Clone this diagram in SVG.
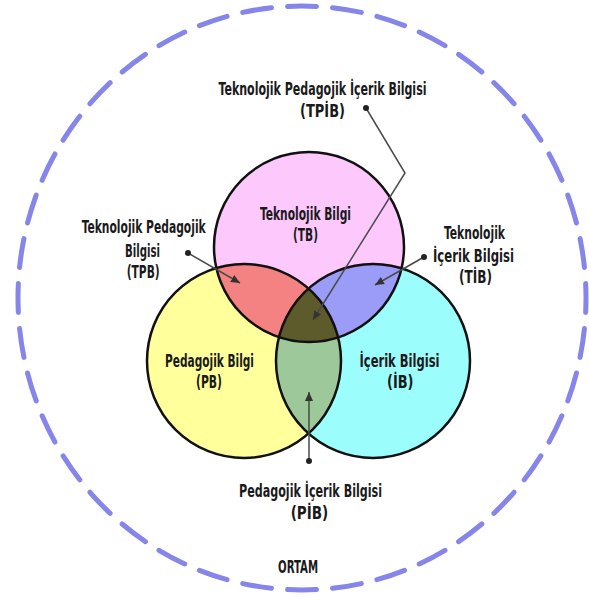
<svg xmlns="http://www.w3.org/2000/svg" width="589" height="597" viewBox="0 0 589 597">
<style>
.t{font-family:"DejaVu Sans","Liberation Sans",sans-serif;font-stretch:condensed;font-weight:bold;font-size:18.5px;fill:#1a1a1a;}
.c{stroke:#111;stroke-width:2.5;fill:none;}
.lk{stroke:#4a4a4a;stroke-width:1.5;fill:none;}
</style>
<defs>
<clipPath id="cpT"><circle cx="309" cy="247" r="95"/></clipPath>
<clipPath id="cpP"><circle cx="244" cy="361" r="97"/></clipPath>
<clipPath id="cpI"><circle cx="373" cy="361" r="97"/></clipPath>
<marker id="arr" markerUnits="userSpaceOnUse" markerWidth="10" markerHeight="8" refX="9" refY="4" orient="auto"><path d="M0,0 L9,4 L0,8 Z" fill="#333"/></marker>
<marker id="dot" markerUnits="userSpaceOnUse" markerWidth="8" markerHeight="8" refX="4" refY="4"><circle cx="4" cy="4" r="3" fill="#222"/></marker>
</defs>
<rect width="589" height="597" fill="#fff"/>
<g id="ortam">
<ellipse cx="302" cy="298" rx="284" ry="292" fill="none" stroke="#8585ea" stroke-width="5" stroke-linecap="round" pathLength="1800" stroke-dasharray="29 16" stroke-dashoffset="14.5"/>
<text class="t" x="278" y="573" textLength="40" lengthAdjust="spacingAndGlyphs">ORTAM</text>
</g>
<g id="fills">
<circle cx="309" cy="247" r="95" fill="#fdc9fd"/>
<circle cx="244" cy="361" r="97" fill="#ffff9c"/>
<circle cx="373" cy="361" r="97" fill="#9cfdfd"/>
<g clip-path="url(#cpT)"><circle cx="244" cy="361" r="97" fill="#f48282"/><circle cx="373" cy="361" r="97" fill="#9b9bf8"/></g>
<g clip-path="url(#cpP)"><circle cx="373" cy="361" r="97" fill="#9dc89a"/></g>
<g clip-path="url(#cpT)"><g clip-path="url(#cpP)"><circle cx="373" cy="361" r="97" fill="#5d5a2c"/></g></g>
</g>
<g id="TB">
<circle class="c" cx="309" cy="247" r="95"/>
<text class="t" x="260" y="220" textLength="91" lengthAdjust="spacingAndGlyphs">Teknolojik Bilgi</text>
<text class="t" x="293" y="241" textLength="25" lengthAdjust="spacingAndGlyphs">(TB)</text>
</g>
<g id="PB">
<circle class="c" cx="244" cy="361" r="97"/>
<text class="t" x="165" y="367" textLength="89" lengthAdjust="spacingAndGlyphs">Pedagojik Bilgi</text>
<text class="t" x="196" y="388" textLength="26" lengthAdjust="spacingAndGlyphs">(PB)</text>
</g>
<g id="IB">
<circle class="c" cx="373" cy="361" r="97"/>
<text class="t" x="359.5" y="367" textLength="80" lengthAdjust="spacingAndGlyphs">İçerik Bilgisi</text>
<text class="t" x="387" y="388" textLength="26.5" lengthAdjust="spacingAndGlyphs">(İB)</text>
</g>
<g id="TPIB">
<text class="t" x="218.5" y="95" textLength="208" lengthAdjust="spacingAndGlyphs">Teknolojik Pedagojik İçerik Bilgisi</text>
<text class="t" x="300" y="117" textLength="45" lengthAdjust="spacingAndGlyphs">(TPİB)</text>
</g>
<g id="TPB">
<text class="t" x="81.7" y="233" textLength="124" lengthAdjust="spacingAndGlyphs">Teknolojik Pedagojik</text>
<text class="t" x="125" y="257" textLength="35" lengthAdjust="spacingAndGlyphs">Bilgisi</text>
<text class="t" x="126.7" y="278" textLength="33" lengthAdjust="spacingAndGlyphs">(TPB)</text>
</g>
<g id="TIB">
<text class="t" x="444" y="239" textLength="61" lengthAdjust="spacingAndGlyphs">Teknolojik</text>
<text class="t" x="433" y="262" textLength="81" lengthAdjust="spacingAndGlyphs">İçerik Bilgisi</text>
<text class="t" x="459" y="283" textLength="33" lengthAdjust="spacingAndGlyphs">(TİB)</text>
</g>
<g id="PIB">
<text class="t" x="239" y="497" textLength="143" lengthAdjust="spacingAndGlyphs">Pedagojik İçerik Bilgisi</text>
<text class="t" x="290.7" y="519" textLength="37.6" lengthAdjust="spacingAndGlyphs">(PİB)</text>
</g>
<g id="connectors">
<polyline class="lk" points="366,108 405,173 313,320" marker-start="url(#dot)" marker-end="url(#arr)"/>
<line class="lk" x1="188" y1="253" x2="240" y2="283" marker-start="url(#dot)" marker-end="url(#arr)"/>
<line class="lk" x1="424" y1="257" x2="375" y2="285" marker-start="url(#dot)" marker-end="url(#arr)"/>
<line class="lk" x1="309" y1="461" x2="309" y2="392" marker-start="url(#dot)" marker-end="url(#arr)"/>
</g>
</svg>
